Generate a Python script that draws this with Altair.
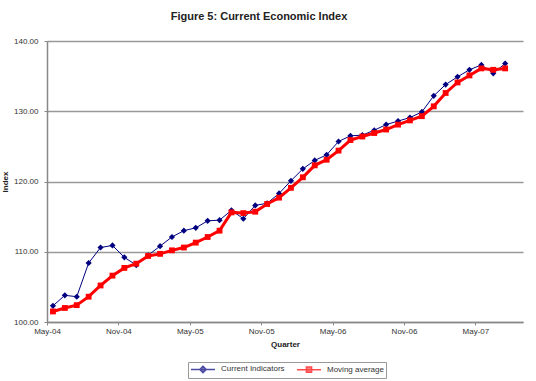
import altair as alt
import pandas as pd

months = ["May-04", "Jun-04", "Jul-04", "Aug-04", "Sep-04", "Oct-04", "Nov-04", "Dec-04",
          "Jan-05", "Feb-05", "Mar-05", "Apr-05", "May-05", "Jun-05", "Jul-05", "Aug-05",
          "Sep-05", "Oct-05", "Nov-05", "Dec-05",
          "Jan-06", "Feb-06", "Mar-06", "Apr-06", "May-06", "Jun-06", "Jul-06", "Aug-06",
          "Sep-06", "Oct-06", "Nov-06", "Dec-06",
          "Jan-07", "Feb-07", "Mar-07", "Apr-07", "May-07", "Jun-07", "Jul-07", "Aug-07"]

tick_labels = ["May-04", "Nov-04", "May-05", "Nov-05", "May-06", "Nov-06", "May-07"]

current = [102.3, 103.8, 103.6, 108.4, 110.6, 110.9, 109.2, 108.1, 109.5, 110.8,
           112.1, 113.0, 113.4, 114.4, 114.5, 115.9, 114.7, 116.6, 116.9, 118.3,
           120.1, 121.8, 123.0, 123.8, 125.7, 126.5, 126.6, 127.3, 128.1, 128.6,
           129.1, 129.9, 132.2, 133.8, 134.9, 135.9, 136.6, 135.4, 136.8]

moving = [101.5, 102.0, 102.4, 103.6, 105.2, 106.6, 107.7, 108.3, 109.4, 109.7,
          110.2, 110.6, 111.3, 112.1, 113.0, 115.6, 115.5, 115.7, 116.8, 117.7,
          119.1, 120.6, 122.3, 123.1, 124.4, 125.9, 126.4, 126.9, 127.4, 128.1,
          128.7, 129.3, 130.7, 132.6, 134.1, 135.1, 136.1, 135.9, 136.1]

series_names = ["Current Indicators", "Moving average"]
series_colors = ["#000080", "#ff0000"]

rows = []
for name, vals in zip(series_names, [current, moving]):
    for m, v in zip(months, vals):
        rows.append({"month": m, "series": name, "value": v})
df = pd.DataFrame(rows)

FONT = "Liberation Sans"
W, H = 476, 281
step = W / len(months)

x_enc = alt.X("month:N", sort=months,
              scale=alt.Scale(type="band", domain=months, paddingInner=0, paddingOuter=0),
              axis=alt.Axis(values=tick_labels, title="Quarter", labelAngle=0,
                            tickOffset=-step / 2, tickSize=3, tickColor="#888",
                            domainColor="#888", domainWidth=1.5,
                            labelFontSize=8, labelColor="#333", labelPadding=2,
                            titleFontSize=8, titleFontWeight="bold", titleColor="#222",
                            titlePadding=5))
y_enc = alt.Y("value:Q",
              scale=alt.Scale(domain=[100, 140], nice=False, zero=False),
              axis=alt.Axis(values=[100, 110, 120, 130, 140], format=".2f",
                            title="Index", grid=True, gridColor="#999", gridWidth=1.5,
                            domainColor="#888", domainWidth=1.5,
                            tickSize=3, tickColor="#888",
                            labelFontSize=8, labelColor="#333", labelPadding=6,
                            titleFontSize=8, titleFontWeight="bold", titleColor="#222",
                            titleX=-38))

base = alt.Chart(df)

cur = base.transform_filter(alt.datum.series == series_names[0]).mark_line(
    color=series_colors[0], strokeWidth=1,
    point=alt.OverlayMarkDef(shape="diamond", filled=True, size=38, color=series_colors[0])
).encode(x=x_enc, y=y_enc)

mov = base.transform_filter(alt.datum.series == series_names[1]).mark_line(
    color=series_colors[1], strokeWidth=3,
    point=alt.OverlayMarkDef(shape="square", filled=True, size=34, color=series_colors[1])
).encode(x=x_enc, y=y_enc)

# legend symbols: a short line with the series' marker on it
sym_paths = ["M-3,0H3M0,-0.8L0.8,0L0,0.8L-0.8,0Z",
             "M-3,0H3M-0.65,-0.65H0.65V0.65H-0.65Z"]

leg = alt.Legend(title=None, orient="none", legendX=141, legendY=321,
                 direction="horizontal", labelFontSize=8, labelColor="#333",
                 labelFont=FONT, symbolSize=64, symbolStrokeWidth=1.5,
                 symbolOffset=8, labelOffset=13,
                 columnPadding=9, padding=2,
                 strokeColor="#999", fillColor="white")

legend_layer = base.mark_point(size=0, filled=True).encode(
    x=x_enc, y=y_enc,
    fill=alt.Fill("series:N", scale=alt.Scale(domain=series_names, range=series_colors), legend=leg),
    stroke=alt.Stroke("series:N", scale=alt.Scale(domain=series_names, range=series_colors), legend=leg),
    shape=alt.Shape("series:N", scale=alt.Scale(domain=series_names, range=sym_paths), legend=leg),
)

chart = alt.layer(cur, mov, legend_layer).properties(
    width=W, height=H,
    title=alt.TitleParams("Figure 5:  Current Economic Index", fontSize=11, fontWeight="bold",
                          font=FONT, color="#222", anchor="middle", dx=-26, offset=15),
    autosize=alt.AutoSizeParams(type="none"),
    padding={"left": 47, "top": 41, "right": 13, "bottom": 59},
).configure(font=FONT).configure_view(stroke=None)

chart.save("out.html", embed_options={"renderer": "svg", "actions": False})
